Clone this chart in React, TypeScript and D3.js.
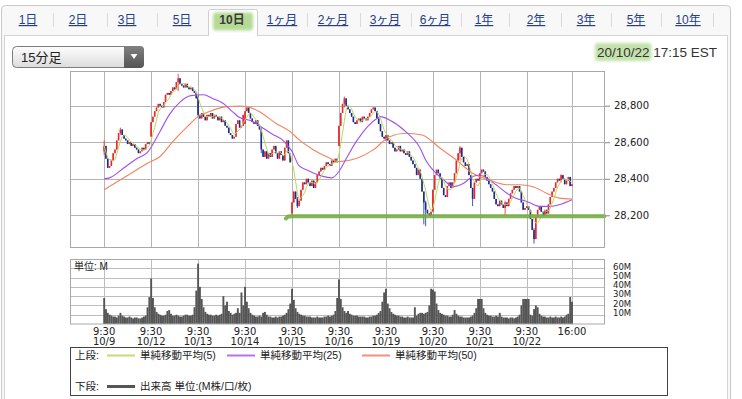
import React, { useEffect, useRef } from "react";
import * as d3 from "d3";

// ---- data ----
const days = ["10/9", "10/12", "10/13", "10/14", "10/15", "10/16", "10/19", "10/20", "10/21", "10/22"];
const BARS = 26; // 15 min bars, 9:30-16:00

const dayOpens = [28550, 28630, 28850, 28700, 28210, 28580, 28610, 28220, 28390, 28240];

const c1009 = [28580, 28510, 28460, 28470, 28500, 28540, 28560, 28610, 28650, 28670, 28640, 28620, 28610, 28590, 28600, 28580, 28590, 28570, 28560, 28540, 28550, 28570, 28560, 28590, 28600, 28590];
const c1012 = [28710, 28740, 28770, 28790, 28810, 28800, 28790, 28820, 28860, 28870, 28860, 28880, 28900, 28890, 28930, 28950, 28920, 28910, 28900, 28920, 28900, 28890, 28900, 28880, 28870, 28840];
const c1013 = [28750, 28730, 28760, 28740, 28720, 28750, 28740, 28760, 28730, 28750, 28740, 28720, 28740, 28710, 28720, 28690, 28680, 28650, 28640, 28620, 28630, 28700, 28720, 28680, 28690, 28750];
const c1014 = [28770, 28790, 28760, 28730, 28710, 28700, 28720, 28690, 28670, 28560, 28520, 28550, 28510, 28540, 28520, 28560, 28580, 28540, 28510, 28550, 28530, 28500, 28570, 28610, 28540, 28490];
const c1015 = [28270, 28330, 28290, 28250, 28280, 28340, 28380, 28370, 28400, 28380, 28360, 28390, 28350, 28380, 28420, 28440, 28460, 28450, 28470, 28490, 28480, 28470, 28500, 28490, 28510, 28490];
const c1016 = [28690, 28760, 28810, 28840, 28800, 28780, 28760, 28740, 28710, 28700, 28720, 28730, 28710, 28740, 28730, 28720, 28740, 28760, 28780, 28790, 28770, 28730, 28700, 28660, 28630, 28620];
const c1019 = [28640, 28610, 28590, 28600, 28570, 28550, 28560, 28580, 28550, 28560, 28540, 28530, 28550, 28520, 28500, 28480, 28460, 28420, 28450, 28400, 28330, 28270, 28230, 28210, 28200, 28220];
const c1020 = [28340, 28420, 28450, 28430, 28400, 28350, 28310, 28300, 28360, 28380, 28350, 28380, 28430, 28500, 28540, 28570, 28520, 28490, 28470, 28480, 28420, 28350, 28290, 28380, 28400, 28390];
const c1021 = [28430, 28450, 28440, 28410, 28390, 28370, 28350, 28330, 28290, 28260, 28250, 28280, 28260, 28240, 28270, 28250, 28290, 28320, 28340, 28360, 28350, 28360, 28330, 28270, 28230, 28240];
const c1022 = [28250, 28230, 28180, 28120, 28070, 28190, 28230, 28250, 28220, 28200, 28230, 28210, 28260, 28300, 28330, 28350, 28380, 28400, 28390, 28420, 28400, 28370, 28390, 28410, 28360, 28370];
const closes = [...c1009, ...c1012, ...c1013, ...c1014, ...c1015, ...c1016, ...c1019, ...c1020, ...c1021, ...c1022];

// notable wicks: [bar index, low, high]
const wicks: [number, number, number][] = [
  [0, 28530, 28610], [9, 28640, 28680], [28 + 13, 28880, 28975], [52, 28740, 28860],
  [78 + 9, 28540, 28680], [104, 28200, 28275], [104 + 3, 28240, 28300], [130 + 3, 28790, 28850],
  [156 + 21, 28150, 28330], [156 + 22, 28140, 28280], [182 + 15, 28500, 28580], [182 + 22, 28250, 28350],
  [208 + 14, 28200, 28280], [234 + 4, 28045, 28130], [234 + 19, 28380, 28425],
];

const v1009 = [28, 16, 12, 10, 9, 8, 8, 7, 9, 12, 9, 8, 7, 7, 8, 7, 6, 7, 7, 6, 6, 7, 8, 9, 18, 29];
const v1012 = [49, 28, 18, 13, 11, 10, 9, 9, 10, 14, 15, 11, 9, 9, 10, 9, 8, 8, 9, 10, 10, 9, 9, 10, 18, 36];
const v1013 = [65, 40, 27, 18, 13, 11, 10, 10, 9, 9, 10, 9, 10, 11, 30, 20, 24, 14, 12, 10, 11, 12, 17, 12, 34, 20];
const v1014 = [40, 24, 17, 12, 10, 9, 8, 8, 9, 8, 12, 13, 10, 8, 8, 7, 7, 8, 7, 8, 8, 9, 10, 12, 16, 22];
const v1015 = [38, 26, 17, 13, 11, 10, 9, 9, 8, 8, 8, 7, 7, 7, 8, 7, 7, 7, 8, 8, 9, 8, 9, 10, 14, 28];
const v1016 = [48, 27, 18, 14, 12, 14, 11, 10, 9, 9, 9, 8, 8, 8, 8, 7, 7, 8, 8, 9, 9, 10, 12, 14, 24, 34];
const v1019 = [38, 22, 17, 13, 11, 10, 9, 9, 8, 8, 7, 7, 8, 7, 7, 7, 18, 9, 11, 12, 12, 11, 12, 13, 20, 38];
const v1020 = [37, 35, 22, 15, 12, 11, 10, 9, 9, 8, 8, 10, 15, 11, 9, 8, 8, 7, 7, 7, 7, 8, 9, 12, 17, 27];
const v1021 = [27, 27, 17, 12, 10, 9, 9, 8, 8, 9, 8, 12, 8, 7, 7, 7, 6, 7, 7, 6, 7, 8, 10, 20, 27, 27];
const v1022 = [27, 27, 10, 9, 16, 20, 18, 11, 9, 8, 8, 7, 7, 8, 7, 7, 8, 7, 7, 8, 7, 8, 10, 11, 29, 24];
const volumes = [...v1009, ...v1012, ...v1013, ...v1014, ...v1015, ...v1016, ...v1019, ...v1020, ...v1021, ...v1022];

// moving averages: [bar index, value]
const ma25: [number, number][] = [
  [0, 28400], [3, 28405], [11, 28460], [18, 28510], [24, 28545], [31, 28660], [36, 28750], [42, 28820],
  [48, 28855], [55, 28860], [60, 28840], [66, 28812], [71, 28768], [75, 28735], [82, 28715], [86, 28690],
  [93, 28645], [99, 28610], [104, 28550], [108, 28470], [113, 28445], [119, 28420], [126, 28405], [130, 28440],
  [134, 28510], [140, 28610], [151, 28730], [153, 28740], [158, 28722], [167, 28658], [175, 28567], [178, 28503],
  [182, 28449], [188, 28394], [193, 28358], [199, 28376], [204, 28412], [208, 28421], [212, 28403], [217, 28367],
  [223, 28321], [228, 28294], [234, 28276], [241, 28249], [247, 28249], [252, 28258], [259, 28285],
];
const ma50: [number, number][] = [
  [0, 28340], [12, 28412], [24, 28485], [31, 28522], [38, 28603], [46, 28685], [52, 28740], [58, 28767],
  [68, 28795], [75, 28798], [79, 28795], [86, 28767], [95, 28704], [103, 28658], [108, 28613], [116, 28558],
  [123, 28522], [130, 28494], [140, 28512], [149, 28558], [158, 28630], [167, 28649], [176, 28640], [186, 28567],
  [195, 28503], [204, 28430], [213, 28394], [223, 28367], [230, 28367], [237, 28358], [245, 28321], [252, 28294],
  [259, 28289],
];

const priceTicks = [28200, 28400, 28600, 28800];
const volTicks = [10, 20, 30, 40, 50, 60];
const supportLevel = 28195;

const tabLabels = ["1日", "2日", "3日", "5日", "10日", "1ヶ月", "2ヶ月", "3ヶ月", "6ヶ月", "1年", "2年", "3年", "5年", "10年"];
const tabCenters = [28, 78, 127, 182, 232, 282, 333, 385, 435, 484, 536, 586, 636, 688];
const tabSeps = [53, 107, 157, 307, 360, 411, 461, 509, 561, 611, 661, 713];
const selectedTab = 4;

const legendTop = [
  { label: "単純移動平均(5)", color: "#c6db78", x: 107 },
  { label: "単純移動平均(25)", color: "#b274ee", x: 227 },
  { label: "単純移動平均(50)", color: "#f2917a", x: 362 },
];

const UP = "#e8282c";
const DOWN = "#1d2c8c";
const JP = "'Liberation Sans', 'Noto Sans CJK JP', sans-serif";
const AX = "'DejaVu Sans', sans-serif";

const App: React.FC = () => {
  const svgRef = useRef<SVGSVGElement>(null);

  useEffect(() => {
    if (!svgRef.current) return;
    const svg = d3.select(svgRef.current);
    svg.selectAll("*").remove();

    const defs = svg.append("defs");
    const g1 = defs.append("linearGradient").attr("id", "ddg").attr("x1", 0).attr("y1", 0).attr("x2", 0).attr("y2", 1);
    g1.append("stop").attr("offset", "0%").attr("stop-color", "#fdfdfd");
    g1.append("stop").attr("offset", "100%").attr("stop-color", "#dcdcdc");
    const g2 = defs.append("linearGradient").attr("id", "btg").attr("x1", 0).attr("y1", 0).attr("x2", 0).attr("y2", 1);
    g2.append("stop").attr("offset", "0%").attr("stop-color", "#808080");
    g2.append("stop").attr("offset", "100%").attr("stop-color", "#555");
    defs.append("filter").attr("id", "soft").append("feGaussianBlur").attr("stdDeviation", 1.6);
    defs.append("clipPath").attr("id", "rightRound").append("rect")
      .attr("x", 12).attr("y", 46).attr("width", 132).attr("height", 22).attr("rx", 4);

    // ---- page frame & tabs ----
    svg.append("rect").attr("width", 742).attr("height", 399).attr("fill", "#fff");
    svg.append("rect").attr("x", 1.5).attr("y", 5.5).attr("width", 729).attr("height", 420).attr("rx", 4)
      .attr("fill", "#f8f8f8").attr("stroke", "#c9c9c9");
    svg.append("rect").attr("x", 4.5).attr("y", 35.5).attr("width", 723).attr("height", 400)
      .attr("fill", "#fff").attr("stroke", "#d4d4d4");
    svg.append("path").attr("d", "M208.5,36 V11.5 Q208.5,9.5 210.5,9.5 H255.5 Q257.5,9.5 257.5,11.5 V36")
      .attr("fill", "#fff").attr("stroke", "#cfcfcf");
    svg.append("rect").attr("x", 209).attr("y", 35).attr("width", 48).attr("height", 2).attr("fill", "#fff");
    svg.append("rect").attr("x", 213).attr("y", 12.5).attr("width", 40).attr("height", 18).attr("rx", 3)
      .attr("fill", "#b5da95").attr("filter", "url(#soft)");

    svg.append("g").selectAll("line").data(tabSeps).join("line")
      .attr("x1", d => d + 0.5).attr("x2", d => d + 0.5).attr("y1", 13).attr("y2", 27)
      .attr("stroke", "#dadada");

    svg.append("g").selectAll("text").data(tabLabels).join("text")
      .attr("x", (_, i) => tabCenters[i]).attr("y", 24)
      .attr("text-anchor", "middle")
      .attr("font-family", JP).attr("font-size", 12)
      .attr("font-weight", (_, i) => (i === selectedTab ? "bold" : "normal"))
      .attr("fill", (_, i) => (i === selectedTab ? "#3a3a3a" : "#24408c"))
      .attr("text-decoration", (_, i) => (i === selectedTab ? "none" : "underline"))
      .text(d => d);

    // dropdown
    svg.append("rect").attr("x", 12.5).attr("y", 46.5).attr("width", 131).attr("height", 21).attr("rx", 4)
      .attr("fill", "url(#ddg)").attr("stroke", "#7d7d7d");
    svg.append("rect").attr("x", 124).attr("y", 46).attr("width", 20).attr("height", 22)
      .attr("fill", "url(#btg)").attr("clip-path", "url(#rightRound)");
    svg.append("path").attr("d", "M130.5,54 H137.5 L134,59 Z").attr("fill", "#fff");
    svg.append("text").attr("x", 21).attr("y", 62).attr("font-family", JP).attr("font-size", 13)
      .attr("fill", "#222").text("15分足");

    // date stamp
    const stamp = svg.append("text").attr("x", 717).attr("y", 57).attr("text-anchor", "end")
      .attr("font-family", JP).attr("font-size", 13.5).attr("fill", "#333");
    stamp.append("tspan").attr("class", "day").text("20/10/22");
    stamp.append("tspan").text(" 17:15 EST");
    const dayNode = stamp.select<SVGTSpanElement>("tspan.day").node();
    if (dayNode) {
      const bb = dayNode.getBBox();
      svg.insert("rect", () => stamp.node() as SVGTextElement)
        .attr("x", bb.x - 2).attr("y", 43).attr("width", bb.width + 4).attr("height", 18).attr("rx", 3)
        .attr("fill", "#c3e2ab").attr("filter", "url(#soft)");
    }

    // ---- scales ----
    const x = d3.scaleLinear().domain([-18.9, 277.3]).range([70, 605]);
    const y = d3.scaleLinear().domain([28021, 28990]).range([248, 71]);
    const yv = d3.scaleLinear().domain([0, 70]).range([324, 259]);
    const step = x(1) - x(0);
    const gridIdx = [...days.map((_, k) => k * BARS), days.length * BARS - 1];

    // ---- price panel ----
    const main = svg.append("g");
    main.append("rect").attr("x", 70).attr("y", 71).attr("width", 535).attr("height", 177).attr("fill", "#fff");
    main.append("g").selectAll("line").data(priceTicks).join("line")
      .attr("x1", 70).attr("x2", 605).attr("y1", d => Math.round(y(d)) + 0.5).attr("y2", d => Math.round(y(d)) + 0.5)
      .attr("stroke", "#b4b4b4");
    main.append("g").selectAll("line").data(gridIdx).join("line")
      .attr("x1", d => Math.round(x(d)) + 0.5).attr("x2", d => Math.round(x(d)) + 0.5).attr("y1", 71).attr("y2", 248)
      .attr("stroke", "#b4b4b4");

    const candles = closes.map((c, i) => {
      const o = i % BARS === 0 ? dayOpens[i / BARS] : closes[i - 1];
      let hi = Math.max(o, c);
      let lo = Math.min(o, c);
      const w = wicks.find(d => d[0] === i);
      if (w) { lo = Math.min(lo, w[1]); hi = Math.max(hi, w[2]); }
      return { i, o, c, hi, lo };
    });
    const cg = main.append("g");
    cg.selectAll("line").data(candles).join("line")
      .attr("x1", d => x(d.i)).attr("x2", d => x(d.i)).attr("y1", d => y(d.hi)).attr("y2", d => y(d.lo))
      .attr("stroke", d => (d.c >= d.o ? UP : DOWN)).attr("stroke-width", 0.8);
    cg.selectAll("rect").data(candles).join("rect")
      .attr("x", d => x(d.i) - 0.8).attr("width", 1.6)
      .attr("y", d => y(Math.max(d.o, d.c)))
      .attr("height", d => Math.max(1, Math.abs(y(d.o) - y(d.c))))
      .attr("fill", d => (d.c >= d.o ? UP : DOWN));

    const sma5: [number, number][] = closes.map((_, i) => [i, d3.mean(closes.slice(Math.max(0, i - 4), i + 1)) as number]);
    const line = d3.line<[number, number]>().x(d => x(d[0])).y(d => y(d[1]));
    const smooth = d3.line<[number, number]>().x(d => x(d[0])).y(d => y(d[1])).curve(d3.curveMonotoneX);
    main.append("path").attr("d", smooth(ma50)).attr("fill", "none").attr("stroke", "#f2845f").attr("stroke-width", 1.1);
    main.append("path").attr("d", smooth(ma25)).attr("fill", "none").attr("stroke", "#a24ff0").attr("stroke-width", 1.1);
    main.append("path").attr("d", line(sma5)).attr("fill", "none").attr("stroke", "#bed65a").attr("stroke-width", 1);

    // hand-drawn support marker
    main.append("path")
      .attr("d", d3.line<[number, number]>().x(d => x(d[0])).y(d => y(d[1]))([
        [100.6, supportLevel - 12], [101.8, supportLevel - 2], [104, supportLevel], [277, supportLevel],
      ]))
      .attr("fill", "none").attr("stroke", "#76ad43").attr("stroke-width", 4)
      .attr("stroke-linecap", "round").attr("stroke-linejoin", "round").attr("opacity", 0.9);

    main.append("rect").attr("x", 70.5).attr("y", 71.5).attr("width", 534).attr("height", 176)
      .attr("fill", "none").attr("stroke", "#a8a8a8");

    const ya = main.append("g").attr("transform", "translate(605,0)")
      .call(d3.axisRight(y).tickValues(priceTicks).tickSize(5).tickPadding(4).tickFormat(d3.format(",")));
    ya.select(".domain").remove();
    ya.selectAll("line").attr("stroke", "#888");
    ya.selectAll("text").attr("font-family", AX).attr("font-size", 10).attr("fill", "#222");

    // ---- volume panel ----
    const vg = svg.append("g");
    vg.append("g").selectAll("line").data(volTicks).join("line")
      .attr("x1", 70).attr("x2", 605).attr("y1", d => Math.round(yv(d)) + 0.5).attr("y2", d => Math.round(yv(d)) + 0.5)
      .attr("stroke", "#bdbdbd");
    vg.append("g").selectAll("line").data(gridIdx).join("line")
      .attr("x1", d => Math.round(x(d)) + 0.5).attr("x2", d => Math.round(x(d)) + 0.5).attr("y1", 259).attr("y2", 324)
      .attr("stroke", "#bdbdbd");
    vg.append("g").selectAll("rect").data(volumes).join("rect")
      .attr("x", (_, i) => x(i) - step / 2).attr("width", step + 0.1)
      .attr("y", d => yv(d)).attr("height", d => yv(0) - yv(d))
      .attr("fill", "#555");
    vg.append("rect").attr("x", 70.5).attr("y", 259.5).attr("width", 534).attr("height", 64.5)
      .attr("fill", "none").attr("stroke", "#a8a8a8");
    vg.append("text").attr("x", 74).attr("y", 270).attr("font-family", JP).attr("font-size", 10)
      .attr("fill", "#222").text("単位: M");
    const va = vg.append("g").attr("transform", "translate(605,-2)")
      .call(d3.axisRight(yv).tickValues(volTicks).tickSize(0).tickPadding(8).tickFormat(d => `${d}M`));
    va.select(".domain").remove();
    va.selectAll("text").attr("font-family", AX).attr("font-size", 8.5).attr("fill", "#222");

    // ---- time labels ----
    const tl = svg.append("g").attr("font-family", AX).attr("font-size", 10).attr("fill", "#222").attr("text-anchor", "middle");
    tl.selectAll("text.t").data(gridIdx).join("text").attr("class", "t")
      .attr("x", d => x(d)).attr("y", 335).text((_, k) => (k < days.length ? "9:30" : "16:00"));
    tl.selectAll("text.d").data(days).join("text").attr("class", "d")
      .attr("x", (_, k) => x(k * BARS)).attr("y", 345).text(d => d);

    // ---- legend ----
    const lg = svg.append("g").attr("font-family", JP).attr("font-size", 10.5).attr("fill", "#222");
    lg.append("rect").attr("x", 70.5).attr("y", 347.5).attr("width", 597).attr("height", 48)
      .attr("fill", "#fff").attr("stroke", "#444");
    lg.append("text").attr("x", 75).attr("y", 359).text("上段:");
    legendTop.forEach(d => {
      lg.append("line").attr("x1", d.x).attr("x2", d.x + 28).attr("y1", 355.5).attr("y2", 355.5)
        .attr("stroke", d.color).attr("stroke-width", 2);
      lg.append("text").attr("x", d.x + 33).attr("y", 359).text(d.label);
    });
    lg.append("text").attr("x", 75).attr("y", 390).text("下段:");
    lg.append("line").attr("x1", 107).attr("x2", 135).attr("y1", 386.5).attr("y2", 386.5)
      .attr("stroke", "#555").attr("stroke-width", 3);
    lg.append("text").attr("x", 140).attr("y", 390).text("出来高 単位:(M株/口/枚)");
  }, []);

  return (
    <svg ref={svgRef} width={742} height={399}
      style={{ position: "absolute", left: 0, top: 0, display: "block" }} />
  );
};

export default App;
